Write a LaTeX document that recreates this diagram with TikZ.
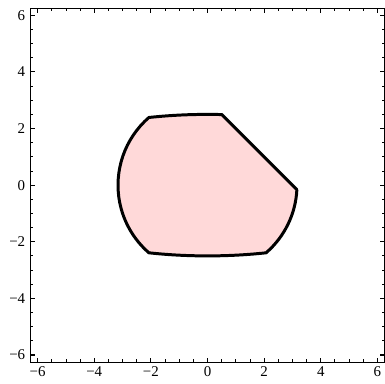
\documentclass[tikz,border=0pt]{standalone}
\usepackage{fontspec}
\setmainfont{Liberation Serif}
\usetikzlibrary{calc}

\definecolor{regionfill}{rgb}{1,0.85,0.85}

\tikzset{
  frameline/.style={line width=0.5pt},
  majortick/.style={line width=0.55pt},
  minortick/.style={line width=0.45pt},
  boundary/.style={fill=regionfill, draw=black, line width=1.5pt, line join=round},
}

\begin{document}
\begin{tikzpicture}[x=0.5cm, y=0.5cm, every node/.style={font=\fontsize{7.5}{9}\selectfont}]
  \useasboundingbox (-7.33,-7.0) rectangle (6.27,6.54);
  % region: x^2+y^2<=10, x^2+8y^2<=50, x+y<=3
  \filldraw[boundary]
    (3.158,-0.158) -- (0.507,2.493)
    arc[x radius=7.071, y radius=2.5, start angle=85.89, end angle=107.02]
    arc[radius=3.162, start angle=130.9, end angle=229.1]
    arc[x radius=7.071, y radius=2.5, start angle=252.98, end angle=287.02]
    arc[radius=3.162, start angle=310.9, end angle=357.14]
    -- cycle;
  % frame
  \draw[frameline] (-6.25,-6.25) rectangle (6.25,6.25);
  % minor ticks
  \foreach \t in {-6.0,-5.5,...,6.1} {
    \draw[minortick] (\t,-6.25) -- ++(0,0.1);
    \draw[minortick] (\t,6.25) -- ++(0,-0.1);
    \draw[minortick] (-6.25,\t) -- ++(0.1,0);
    \draw[minortick] (6.25,\t) -- ++(-0.1,0);
  }
  % major ticks and labels
  \foreach \t/\lab in {-6/−6,-4/−4,-2/−2,0/0,2/2,4/4,6/6} {
    \draw[majortick] (\t,-6.25) -- ++(0,0.16);
    \draw[majortick] (\t,6.25) -- ++(0,-0.16);
    \draw[majortick] (-6.25,\t) -- ++(0.16,0);
    \draw[majortick] (6.25,\t) -- ++(-0.16,0);
    \node[anchor=north, inner sep=2pt] (xlab\t) at (\t,-6.25) {\lab};
    \node[anchor=east, inner sep=2.5pt] (ylab\t) at (-6.25,\t) {\lab};
  }
\end{tikzpicture}
\end{document}
